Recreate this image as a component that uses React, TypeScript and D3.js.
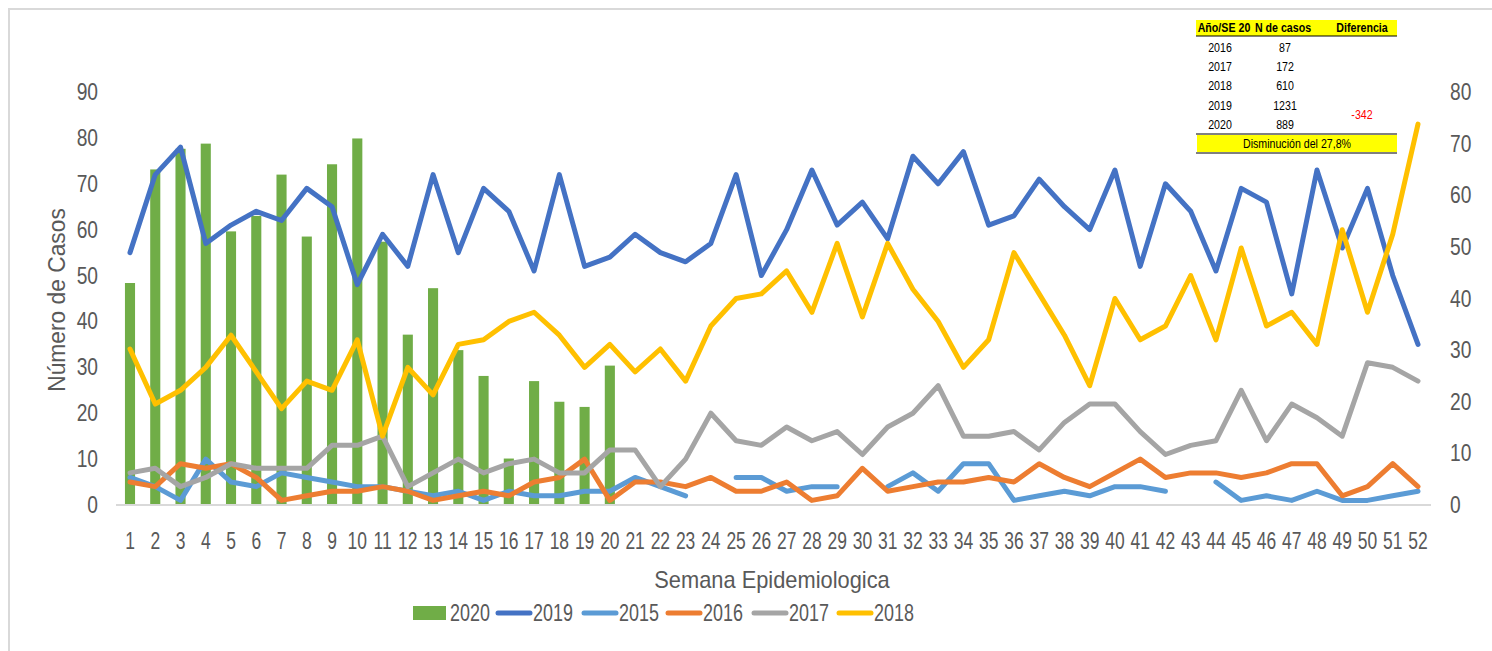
import React, { useEffect } from "react";
import * as d3 from "d3";

const weeks = d3.range(1, 53);

// 2020 bars (right axis)
const s2020 = [43, 65, 69, 70, 53, 56, 64, 52, 66, 71, 51, 33, 42, 30, 25, 9, 24, 20, 19, 27];
// lines (left axis)
const s2019 = [55, 72, 78, 57, 61, 64, 62, 69, 65, 48, 59, 52, 72, 55, 69, 64, 51, 72, 52, 54, 59, 55, 53, 57, 72, 50, 60, 73, 61, 66, 58, 76, 70, 77, 61, 63, 71, 65, 60, 73, 52, 70, 64, 51, 69, 66, 46, 73, 56, 69, 50, 35];
const s2015 = [6, 4, 1, 10, 5, 4, 7, 6, 5, 4, 4, 3, 2, 3, 1, 3, 2, 2, 3, 3, 6, 4, 2, null, 6, 6, 3, 4, 4, null, 4, 7, 3, 9, 9, 1, 2, 3, 2, 4, 4, 3, null, 5, 1, 2, 1, 3, 1, 1, 2, 3];
const s2016 = [5, 4, 9, 8, 9, 6, 1, 2, 3, 3, 4, 3, 1, 2, 3, 2, 5, 6, 10, 1, 5, 5, 4, 6, 3, 3, 5, 1, 2, 8, 3, 4, 5, 5, 6, 5, 9, 6, 4, 7, 10, 6, 7, 7, 6, 7, 9, 9, 2, 4, 9, 4];
const s2017 = [7, 8, 4, 6, 9, 8, 8, 8, 13, 13, 15, 4, 7, 10, 7, 9, 10, 7, 7, 12, 12, 4, 10, 20, 14, 13, 17, 14, 16, 11, 17, 20, 26, 15, 15, 16, 12, 18, 22, 22, 16, 11, 13, 14, 25, 14, 22, 19, 15, 31, 30, 27];
const s2018 = [34, 22, 25, 30, 37, 29, 21, 27, 25, 36, 15, 30, 24, 35, 36, 40, 42, 37, 30, 35, 29, 34, 27, 39, 45, 46, 51, 42, 57, 41, 57, 47, 40, 30, 36, 55, 46, 37, 26, 45, 36, 39, 50, 36, 56, 39, 42, 35, 60, 42, 59, 83];

const leftTicks = [0, 10, 20, 30, 40, 50, 60, 70, 80, 90];
const rightTicks = [0, 10, 20, 30, 40, 50, 60, 70, 80];

const tableYears = ["2016", "2017", "2018", "2019", "2020"];
const tableCases = ["87", "172", "610", "1231", "889"];
const tableHeaders = ["Año/SE 20", "N de casos", "Diferencia"];
const tableDiff = "-342";
const tableNote = "Disminución del 27,8%";

const lines = [
  { name: "2019", values: s2019, color: "#4472c4" },
  { name: "2015", values: s2015, color: "#5b9bd5" },
  { name: "2016", values: s2016, color: "#ed7d31" },
  { name: "2017", values: s2017, color: "#a5a5a5" },
  { name: "2018", values: s2018, color: "#ffc000" },
];
const legendItems = [{ name: "2020", color: "#70ad47", bar: true }, ...lines.map((l) => ({ ...l, bar: false }))];

const FONT = "'Liberation Sans', Arial, sans-serif";
const TEXT = "#595959";

// narrow text, to look like Calibri
function NText({ x, y, sx = 0.8, children, ...rest }: any) {
  return (
    <text transform={`translate(${x},${y}) scale(${sx},1)`} {...rest}>
      {children}
    </text>
  );
}

export default function App() {
  useEffect(() => {
    document.body.style.margin = "0";
  }, []);

  const width = 1492;
  const height = 651;
  const x = d3.scalePoint<number>().domain(weeks).range([130, 1418]);
  const yL = d3.scaleLinear().domain([0, 90]).range([505, 92]);
  const yR = d3.scaleLinear().domain([0, 80]).range([505, 92]);
  const barW = x.step() * 0.4;

  const lineGen = (vals: (number | null)[]) =>
    d3
      .line<number | null>()
      .defined((d) => d !== null)
      .x((_, i) => x(weeks[i]) as number)
      .y((d) => yL(d as number))(vals) as string;

  const legendX = [413, 496, 582, 666, 752, 837];

  return (
    <svg width={width} height={height} style={{ display: "block", background: "#fff" }} fontFamily={FONT}>
      <rect x={9} y={9} width={1600} height={800} fill="#fff" stroke="#d9d9d9" strokeWidth={2} />

      {/* bars */}
      {s2020.map((v, i) => (
        <rect key={i} x={(x(weeks[i]) as number) - barW / 2} y={yR(v)} width={barW} height={yR(0) - yR(v)} fill="#70ad47" />
      ))}

      <line x1={116} x2={1431} y1={yL(0)} y2={yL(0)} stroke="#d9d9d9" strokeWidth={2} />

      {lines.map((l) => (
        <path key={l.name} d={lineGen(l.values)} fill="none" stroke={l.color} strokeWidth={5} strokeLinejoin="round" strokeLinecap="round" />
      ))}

      {/* left axis */}
      {leftTicks.map((t) => (
        <NText key={t} x={98} y={yL(t) + 8} textAnchor="end" fontSize={24} fill={TEXT}>{t}</NText>
      ))}
      {/* right axis */}
      {rightTicks.map((t) => (
        <NText key={t} x={1450} y={yR(t) + 8} textAnchor="start" fontSize={24} fill={TEXT}>{t}</NText>
      ))}
      {/* x labels */}
      {weeks.map((w) => (
        <NText key={w} x={x(w)} y={549} textAnchor="middle" fontSize={23} sx={0.76} fill={TEXT}>{w}</NText>
      ))}

      <text transform="translate(65,300) rotate(-90) scale(0.95,1)" textAnchor="middle" fontSize={24} fontWeight={500} fill={TEXT}>Número de Casos</text>
      <NText x={772} y={588} sx={0.95} textAnchor="middle" fontSize={23} fill={TEXT}>Semana Epidemiologica</NText>

      {/* legend */}
      {legendItems.map((it, i) => (
        <g key={it.name} transform={`translate(${legendX[i]},613)`}>
          {it.bar ? (
            <rect x={0} y={-7} width={33} height={14} fill={it.color} />
          ) : (
            <line x1={2} x2={34} y1={0} y2={0} stroke={it.color} strokeWidth={5} strokeLinecap="round" />
          )}
          <NText x={37} y={8} fontSize={23} sx={0.78} fill={TEXT}>{it.name}</NText>
        </g>
      ))}

      {/* table */}
      <g fontSize={12.5} fill="#000">
        <rect x={1196} y={20} width={201} height={16} fill="#ffff00" />
        <line x1={1196} x2={1397} y1={36} y2={36} stroke="#000" strokeWidth={1} />
        {tableHeaders.map((h, i) => (
          <NText key={h} x={[1224, 1283, 1362][i]} y={32} textAnchor="middle" fontWeight="bold" fontSize={13} sx={0.82}>{h}</NText>
        ))}
        {tableYears.map((yr, i) => (
          <g key={yr}>
            <NText x={1220} y={52 + i * 19.2} textAnchor="middle" sx={0.85}>{yr}</NText>
            <NText x={1285} y={52 + i * 19.2} textAnchor="middle" sx={0.85}>{tableCases[i]}</NText>
          </g>
        ))}
        <NText x={1362} y={119} textAnchor="middle" fill="#ff0000" sx={0.85}>{tableDiff}</NText>
        <line x1={1196} x2={1397} y1={134} y2={134} stroke="#000" strokeWidth={1} />
        <rect x={1197} y={135} width={200} height={17} fill="#ffff00" />
        <line x1={1196} x2={1397} y1={153} y2={153} stroke="#000" strokeWidth={1} />
        <NText x={1297} y={148} textAnchor="middle" sx={0.85}>{tableNote}</NText>
      </g>
    </svg>
  );
}
